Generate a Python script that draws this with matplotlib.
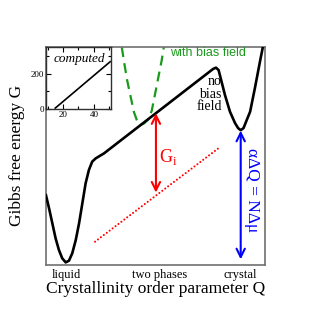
import numpy as np
import matplotlib
matplotlib.use("Agg")
import matplotlib.pyplot as plt

plt.rcParams['font.family'] = ['Liberation Serif', 'DejaVu Serif']
plt.rcParams['mathtext.fontset'] = 'custom'
plt.rcParams['mathtext.rm'] = 'Liberation Serif'

# free energy without bias (axes units 0..100)
q_free = [0, 1.4, 2.9, 4.4, 5.9, 7.4, 9.0, 10.5, 12.0, 13.6, 15.1, 16.6, 18.1,
          19.6, 21.1, 22.7, 26.5, 76.3, 77.6, 78.8, 79.5, 81.7, 84.0, 86.3,
          87.7, 88.9, 90.2, 91.3, 93.2, 95.4, 97.7, 99.2]
g_free = [32.0, 26.0, 19.1, 12.2, 6.9, 3.1, 1.2, 2.0, 5.4, 11.5, 19.1, 28.3, 37.5,
          43.6, 47.4, 48.9, 51.2, 89.9, 90.5, 89.4, 86.7, 78.0, 70.3, 65.1,
          62.8, 61.8, 62.8, 65.6, 70.3, 81.2, 93.3, 100.9]

# with bias field
q_bias = [34.6, 35.8, 37.1, 38.7, 40.2, 41.7, 43.2, 44.7, 46.7, 48.3, 49.8,
          51.3, 52.8, 53.8]
g_bias = [99.9, 92.2, 84.5, 76.9, 70.0, 65.8, 64.2, 64.9, 66.7, 70.8, 78.4,
          86.1, 93.7, 99.9]

# interface line
q_int = [22.4, 78.7]
g_int = [10.7, 53.5]

# arrows
gi_q, gi_top, gi_bot = 50.2, 69.6, 33.2
mu_q, mu_top, mu_bot = 88.9, 61.6, 2.6

# inset
inset_x = [15, 50.5]
inset_y = [5, 267]

fig = plt.figure(figsize=(3.12, 3.12), dpi=100)
ax = fig.add_axes([0.1474, 0.1506, 0.702, 0.699])
ax.set_xlim(0, 100)
ax.set_ylim(0, 100)
ax.set_xticks([])
ax.set_yticks([])
for s in ax.spines.values():
    s.set_color('#707070')
    s.set_linewidth(1.2)

ax.plot(q_bias, g_bias, color='#1a9a1a', lw=1.6, dashes=(4.5, 2.8), zorder=2,
        solid_joinstyle='round', dash_joinstyle='round')
ax.plot(q_free, g_free, color='black', lw=1.9, zorder=3, solid_joinstyle='round')
ax.plot(q_int, g_int, color='red', lw=1.5, linestyle=(0, (0.01, 1.75)),
        dash_capstyle='round', zorder=2)

ax.annotate('', xy=(gi_q, gi_top), xytext=(gi_q, gi_bot),
            arrowprops=dict(arrowstyle='<->,head_length=0.6,head_width=0.3',
                            color='red', lw=1.5, shrinkA=0, shrinkB=0))
ax.annotate('', xy=(mu_q, mu_top), xytext=(mu_q, mu_bot),
            arrowprops=dict(arrowstyle='<->,head_length=0.6,head_width=0.3',
                            color='blue', lw=1.5, shrinkA=0, shrinkB=0))

ax.text(51.8, 49.5, 'G$_{\\mathrm{i}}$', color='red', fontsize=13, va='center', ha='left')
ax.text(94.1, 34.4, 'αΔQ = NΔμ', color='blue', fontsize=12.5, rotation=270,
        va='center', ha='center')
ax.text(56.4, 97.1, 'with bias field', color='#1a9a1a', fontsize=9,
        family='Liberation Sans', va='center', ha='left')
ax.text(80.2, 78.3, 'no\nbias\nfield', color='black', fontsize=10, va='center',
        ha='right', multialignment='right', linespacing=0.95)

for xq, lab in [(9.5, 'liquid'), (51.7, 'two phases'), (88.9, 'crystal')]:
    ax.text(xq, -0.045, lab, transform=ax.get_xaxis_transform(), fontsize=9,
            ha='center', va='center')

fig.text(156 / 312, 1 - 289 / 312, 'Crystallinity order parameter Q', fontsize=12.5,
         ha='center', va='center')
fig.text(16.7 / 312, 1 - 155.5 / 312, 'Gibbs free energy G', fontsize=12.5,
         ha='center', va='center', rotation=90)

# inset
ins = fig.add_axes([0.1474, 0.6507, 0.2083, 0.1987])
ins.plot(inset_x, inset_y, color='black', lw=1.2)
ins.set_xlim(9, 51)
ins.set_ylim(0, 350)
ins.set_xticks([20, 40])
ins.set_xticks([10, 30, 50], minor=True)
ins.set_yticks([0, 200])
ins.set_yticks([100, 300], minor=True)
ins.tick_params(which='both', direction='in', top=True, right=True, labelsize=6.5,
                pad=1.5, width=0.8)
ins.tick_params(which='major', length=3.5)
ins.tick_params(which='minor', length=2)
for s in ins.spines.values():
    s.set_linewidth(1.0)
    s.set_color('#303030')
ins.text(0.52, 0.8, 'computed', transform=ins.transAxes, fontsize=9.5,
         style='italic', ha='center', va='center')

fig.savefig('out.png', dpi=100)
